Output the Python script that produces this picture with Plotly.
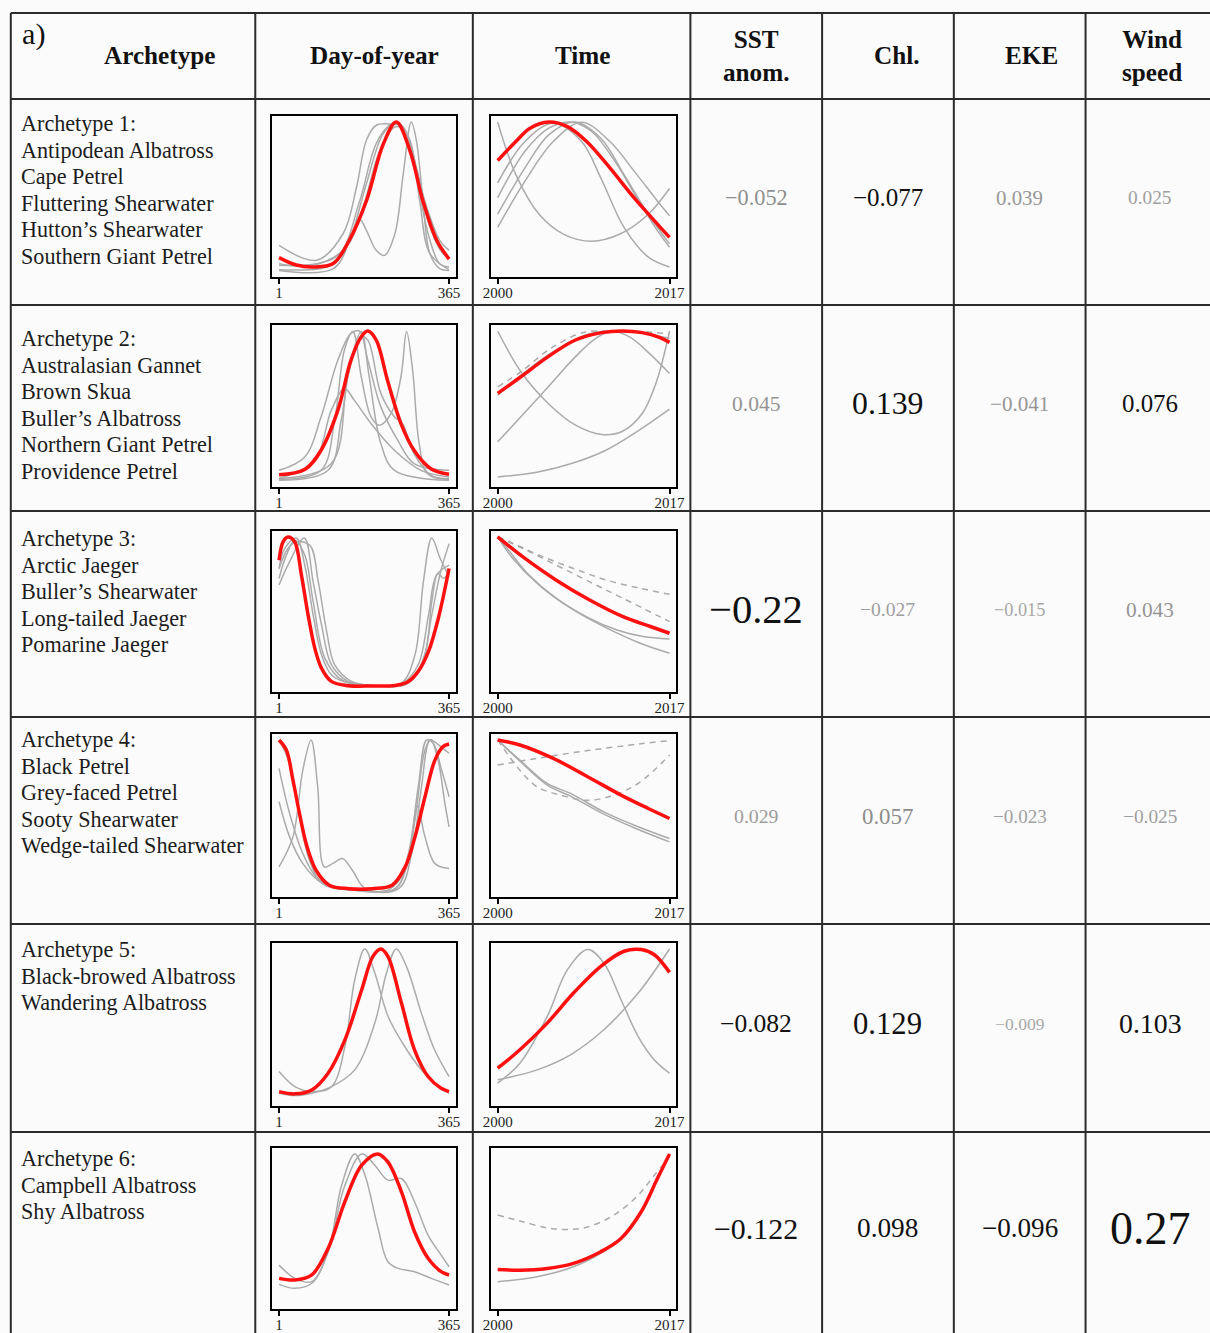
import plotly.graph_objects as go

W, H = 1210, 1333

# ---------------- data ----------------
headers = ["Archetype", "Day-of-year", "Time", "SST<br>anom.", "Chl.", "EKE", "Wind<br>speed"]
archetype_titles = ["Archetype 1:", "Archetype 2:", "Archetype 3:", "Archetype 4:", "Archetype 5:", "Archetype 6:"]
species_names = [
    ["Antipodean Albatross", "Cape Petrel", "Fluttering Shearwater", "Hutton’s Shearwater", "Southern Giant Petrel"],
    ["Australasian Gannet", "Brown Skua", "Buller’s Albatross", "Northern Giant Petrel", "Providence Petrel"],
    ["Arctic Jaeger", "Buller’s Shearwater", "Long-tailed Jaeger", "Pomarine Jaeger"],
    ["Black Petrel", "Grey-faced Petrel", "Sooty Shearwater", "Wedge-tailed Shearwater"],
    ["Black-browed Albatross", "Wandering Albatross"],
    ["Campbell Albatross", "Shy Albatross"],
]
sst_anom = [-0.052, 0.045, -0.22, 0.029, -0.082, -0.122]
chl = [-0.077, 0.139, -0.027, 0.057, 0.129, 0.098]
eke = [0.039, -0.041, -0.015, -0.023, -0.009, -0.096]
wind_speed = [0.025, 0.076, 0.043, -0.025, 0.103, 0.27]

doy_ticks = [1, 365]
doy_ticktext = ["1", "365"]
year_ticks = [2000, 2017]
year_ticktext = ["2000", "2017"]

# Archetype (red) seasonal curves: (day, relative value)
doy_archetype = [
    ([1, 38, 74, 117, 152, 188, 224, 252, 281, 309, 338, 365],
     [0.09, 0.04, 0.027, 0.05, 0.21, 0.47, 0.85, 1.0, 0.81, 0.47, 0.21, 0.08]),
    ([1, 56, 91, 127, 155, 177, 191, 209, 233, 262, 290, 326, 365],
     [0.042, 0.076, 0.205, 0.472, 0.806, 0.962, 1.0, 0.94, 0.673, 0.383, 0.205, 0.082, 0.045]),
    ([1, 9.6, 20.3, 34.6, 48.9, 63.2, 77.5, 91.8, 113, 149, 199, 249, 278, 299, 321, 342, 365],
     [0.844, 0.967, 1.0, 0.967, 0.744, 0.477, 0.254, 0.12, 0.031, 0.002, 0.0, 0.004, 0.031, 0.098, 0.232, 0.454, 0.788]),
    ([1, 16.6, 30.7, 44.8, 59, 80.2, 108.5, 151, 200, 243, 271, 292, 313.5, 334.7, 352, 365],
     [1.0, 0.934, 0.735, 0.513, 0.314, 0.137, 0.038, 0.015, 0.015, 0.038, 0.159, 0.358, 0.624, 0.867, 0.956, 0.973]),
    ([1, 35, 71, 106, 142, 178, 202, 219, 234, 263, 291, 320, 348, 365],
     [0.055, 0.04, 0.066, 0.177, 0.398, 0.73, 0.951, 1.0, 0.951, 0.642, 0.332, 0.155, 0.077, 0.055]),
    ([1, 35, 71, 106, 142, 178, 212, 234, 263, 291, 320, 348, 365],
     [0.165, 0.154, 0.188, 0.366, 0.68, 0.924, 1.0, 0.946, 0.746, 0.478, 0.3, 0.21, 0.188]),
]

# Species (grey) seasonal curves
doy_species = [
    [
        ([1, 81, 138, 167, 188, 209, 245, 267, 288, 317, 345, 365],
         [0.172, 0.072, 0.25, 0.564, 0.877, 0.978, 0.984, 0.966, 0.765, 0.43, 0.206, 0.139]),
        ([1, 102, 138, 160, 174, 188, 209, 227, 249, 267, 284, 295, 309, 324, 345, 365],
         [0.009, 0.027, 0.116, 0.273, 0.345, 0.273, 0.139, 0.105, 0.25, 0.653, 1.0, 0.877, 0.474, 0.116, 0.016, 0.004]),
        ([1, 117, 152, 188, 224, 252, 281, 302, 324, 365],
         [0.004, 0.016, 0.206, 0.586, 0.922, 1.0, 0.877, 0.474, 0.116, 0.009]),
        ([1, 81, 131, 174, 209, 238, 259, 281, 302, 324, 345, 365],
         [0.038, 0.049, 0.116, 0.474, 0.855, 0.978, 0.99, 0.855, 0.52, 0.206, 0.049, 0.027]),
        ([1, 74, 145, 181, 217, 249, 270, 295, 324, 352, 365],
         [0.049, 0.038, 0.161, 0.43, 0.81, 0.966, 0.944, 0.698, 0.295, 0.116, 0.094]),
    ],
    [
        ([1, 91, 120, 141, 159, 177, 198, 216, 241, 262, 274, 287, 301, 319, 365],
         [0.009, 0.071, 0.405, 0.873, 0.996, 0.695, 0.428, 0.372, 0.45, 0.695, 0.996, 0.739, 0.249, 0.049, 0.009]),
        ([1, 56, 91, 127, 155, 173, 191, 219, 255, 290, 365],
         [0.071, 0.16, 0.428, 0.806, 0.984, 1.0, 0.806, 0.494, 0.272, 0.116, 0.071]),
        ([1, 77, 113, 141, 162, 198, 248, 305, 365],
         [0.016, 0.138, 0.472, 0.617, 0.539, 0.383, 0.205, 0.071, 0.027]),
        ([1, 106, 134, 155, 177, 194, 219, 248, 365],
         [0.004, 0.071, 0.405, 0.806, 0.996, 0.695, 0.249, 0.071, 0.004]),
        ([1, 113, 148, 177, 191, 219, 248, 265, 290, 326, 365],
         [0.016, 0.116, 0.695, 0.962, 0.94, 0.584, 0.428, 0.383, 0.183, 0.038, 0.016]),
    ],
    [
        ([1, 13, 38, 56, 74, 92, 113, 149, 199, 263, 292, 310, 328, 346, 365],
         [0.788, 0.922, 0.993, 0.811, 0.477, 0.209, 0.076, 0.02, 0.004, 0.02, 0.209, 0.699, 0.993, 0.855, 0.733]),
        ([1, 20, 55, 74, 92, 113, 149, 199, 271, 306, 328, 346, 365],
         [0.677, 0.811, 0.993, 0.699, 0.41, 0.143, 0.031, 0.004, 0.009, 0.143, 0.477, 0.755, 0.955]),
        ([1, 20, 38, 67, 85, 103, 120, 156, 199, 278, 313, 328, 341, 353, 365],
         [0.788, 0.922, 0.967, 0.944, 0.699, 0.365, 0.143, 0.031, 0.004, 0.02, 0.209, 0.566, 0.755, 0.722, 0.766]),
        ([1, 16.7, 34.6, 56, 74, 99, 135, 199, 263, 299, 321, 338, 365],
         [0.722, 0.878, 0.978, 0.878, 0.566, 0.187, 0.042, 0.004, 0.013, 0.143, 0.477, 0.744, 0.811]),
    ],
    [
        ([1, 30.7, 51.9, 69.6, 83.7, 97.9, 115.5, 136.7, 158, 186, 250, 278, 297, 313.5, 334.7, 365],
         [0.159, 0.358, 0.801, 1.0, 0.69, 0.159, 0.181, 0.215, 0.137, 0.015, 0.015, 0.204, 0.562, 0.358, 0.181, 0.148]),
        ([1, 23.6, 51.9, 80.2, 115.5, 165, 250, 278, 299, 317, 331, 349, 365],
         [0.812, 0.513, 0.248, 0.093, 0.027, 0.004, 0.015, 0.248, 0.69, 1.0, 0.978, 0.801, 0.624]),
        ([1, 23.6, 51.9, 94.3, 151, 236, 271, 292, 313.5, 326, 341.5, 356, 365],
         [0.591, 0.358, 0.181, 0.049, 0.009, 0.009, 0.137, 0.469, 0.934, 1.0, 0.867, 0.58, 0.425]),
        ([1, 23.6, 44.8, 66, 94.3, 165, 257, 285, 306, 324, 338, 356, 365],
         [1.0, 0.845, 0.491, 0.204, 0.049, 0.004, 0.015, 0.248, 0.69, 1.0, 0.978, 0.934, 0.912]),
    ],
    [
        ([1, 35, 71, 113.5, 142, 163, 184.7, 206, 234.5, 270, 305.7, 334, 365],
         [0.188, 0.088, 0.055, 0.088, 0.354, 0.796, 1.0, 0.841, 0.553, 0.354, 0.199, 0.111, 0.044]),
        ([1, 35, 71, 113.5, 163, 206, 231, 252, 273.7, 305.7, 334, 365],
         [0.044, 0.029, 0.044, 0.088, 0.199, 0.509, 0.841, 1.0, 0.885, 0.575, 0.332, 0.155]),
    ],
    [
        ([1, 35, 71, 106, 135, 163, 185, 213, 234, 256, 291, 327, 365],
         [0.254, 0.165, 0.143, 0.344, 0.79, 1.0, 0.857, 0.5, 0.277, 0.232, 0.21, 0.165, 0.121]),
        ([1, 35, 71, 106, 142, 178, 206, 234, 263, 291, 320, 348, 365],
         [0.125, 0.098, 0.132, 0.344, 0.79, 1.0, 0.924, 0.824, 0.835, 0.679, 0.455, 0.321, 0.243]),
    ],
]

# Archetype (red) trend curves: (year, relative value)
time_archetype = [
    ([2000, 2001.8, 2003.2, 2005.05, 2006.9, 2008.8, 2011.1, 2013.5, 2015.8, 2017],
     [0.741, 0.869, 0.958, 1.0, 0.969, 0.869, 0.692, 0.49, 0.315, 0.226]),
    ([2000, 2002.3, 2005, 2007.7, 2010.3, 2012.3, 2014.3, 2016, 2017],
     [0.584, 0.695, 0.829, 0.94, 0.989, 1.0, 0.989, 0.958, 0.924]),
    ([2000, 2002.5, 2005.8, 2009.1, 2012.4, 2015.1, 2017],
     [1.0, 0.866, 0.71, 0.577, 0.465, 0.399, 0.354]),
    ([2000, 2002.2, 2005.5, 2008.9, 2012.2, 2014.9, 2017],
     [1.0, 0.967, 0.878, 0.757, 0.635, 0.546, 0.48]),
    ([2000, 2002.2, 2004.9, 2007.5, 2010.2, 2012.5, 2014.2, 2015.5, 2017],
     [0.21, 0.332, 0.509, 0.708, 0.885, 0.985, 0.996, 0.962, 0.845]),
    ([2000, 2002.2, 2004.9, 2007.5, 2010.2, 2012.2, 2014.2, 2015.8, 2017],
     [0.225, 0.22, 0.232, 0.266, 0.344, 0.433, 0.612, 0.835, 1.0]),
]

# Species (grey, solid) trend curves
time_species = [
    [
        ([2000, 2001.8, 2004.1, 2006.5, 2009.3, 2012.1, 2014.9, 2017],
         [1.0, 0.647, 0.381, 0.248, 0.2, 0.248, 0.381, 0.554]),
        ([2000, 2002.7, 2005.5, 2008.3, 2010.2, 2012.5, 2014.9, 2017],
         [0.592, 0.869, 0.991, 0.869, 0.625, 0.293, 0.093, 0.027]),
        ([2000, 2002.7, 2005.05, 2007.2, 2009.3, 2011.6, 2013.95, 2015.8, 2017],
         [0.492, 0.803, 0.958, 1.0, 0.936, 0.736, 0.47, 0.271, 0.16]),
        ([2000, 2002.7, 2005.05, 2007.6, 2010.2, 2012.5, 2014.9, 2017],
         [0.381, 0.692, 0.913, 1.0, 0.891, 0.647, 0.381, 0.182]),
        ([2000, 2002.7, 2005.5, 2008.3, 2011.1, 2013.5, 2015.8, 2017],
         [0.293, 0.603, 0.869, 0.998, 0.869, 0.67, 0.47, 0.37]),
    ],
    [
        ([2000, 2005, 2009, 2012.3, 2017], [0.572, 0.84, 0.98, 1.0, 0.951]),
        ([2000, 2002.3, 2005, 2007.7, 2010.3, 2012.3, 2014.3, 2015.7, 2017],
         [1.0, 0.728, 0.517, 0.372, 0.31, 0.33, 0.45, 0.66, 1.0]),
        ([2000, 2002.3, 2005, 2007.7, 2009.7, 2011.3, 2013, 2015, 2017],
         [0.261, 0.428, 0.628, 0.829, 0.951, 0.996, 0.962, 0.851, 0.717]),
        ([2000, 2004, 2007.3, 2010.7, 2014, 2017], [0.027, 0.06, 0.116, 0.205, 0.339, 0.479]),
    ],
    [
        ([2000, 2001.2, 2003.1, 2005.8, 2009.1, 2011.8, 2014.4, 2017],
         [1.0, 0.9, 0.744, 0.588, 0.454, 0.376, 0.332, 0.316]),
        ([2000, 2001.5, 2004.1, 2007.5, 2010.8, 2014.1, 2017],
         [1.0, 0.855, 0.677, 0.51, 0.388, 0.287, 0.22]),
    ],
    [
        ([2000, 2002.2, 2004.9, 2007.2, 2010.5, 2013.9, 2017],
         [1.0, 0.867, 0.712, 0.646, 0.524, 0.425, 0.347]),
        ([2000, 2002.2, 2004.9, 2007.2, 2010.5, 2013.9, 2017],
         [1.0, 0.86, 0.701, 0.628, 0.509, 0.407, 0.325]),
    ],
    [
        ([2000, 2002.2, 2004.9, 2006.9, 2008.9, 2010.5, 2012.2, 2013.9, 2015.5, 2017],
         [0.111, 0.243, 0.553, 0.863, 0.996, 0.907, 0.664, 0.42, 0.265, 0.177]),
        ([2000, 2003.9, 2007.2, 2010.5, 2013.9, 2017], [0.133, 0.199, 0.299, 0.465, 0.708, 1.0]),
    ],
    [
        ([2000, 2003.9, 2007.5, 2010.2, 2012.2, 2014.2, 2015.8, 2017],
         [0.143, 0.176, 0.243, 0.333, 0.43, 0.61, 0.83, 1.0]),
    ],
]

# Species (grey, dashed) trend curves
time_species_dashed = [
    [],
    [
        ([2000, 2002.3, 2005, 2007.7, 2009, 2011, 2012.3, 2014.3, 2017],
         [0.628, 0.728, 0.873, 0.973, 0.996, 1.0, 1.0, 0.996, 0.98]),
    ],
    [
        ([2000, 2001.2, 2004.1, 2007.5, 2010.8, 2014.1, 2017],
         [1.0, 0.967, 0.878, 0.788, 0.71, 0.655, 0.615]),
        ([2000, 2002.5, 2005.8, 2009.1, 2012.4, 2017],
         [1.0, 0.922, 0.811, 0.699, 0.588, 0.432]),
    ],
    [
        ([2000, 2003.9, 2008.9, 2013.9, 2017], [0.834, 0.878, 0.93, 0.973, 0.996]),
        ([2000, 2002.2, 2003.9, 2006.2, 2008.9, 2011.5, 2013.9, 2017],
         [1.0, 0.8, 0.69, 0.635, 0.6, 0.635, 0.712, 0.9]),
    ],
    [],
    [
        ([2000, 2002.2, 2004.9, 2006.9, 2008.9, 2011.5, 2013.9, 2015.5, 2017],
         [0.59, 0.55, 0.504, 0.493, 0.51, 0.59, 0.723, 0.857, 0.98]),
    ],
]

# ---------------- layout geometry (target pixels in the final picture) ----------------
GRID_X = [10, 255, 473, 691, 823, 955, 1087]
GRID_Y = [13, 99, 305, 511, 717, 924, 1132]
ROW_BOUNDS = [(99, 305), (305, 511), (511, 717), (717, 924), (924, 1132), (1132, 1333)]
BOX_Y = [(116, 277), (325, 487), (531, 692), (734, 897), (943, 1106), (1148, 1309)]
DOY_BOX_X = (272, 456)
TIME_BOX_X = (491, 677)
FIRST_LINE_Y = [124, 339, 539, 740, 950, 1159]
LINE_GAP = 26.5
VALUE_COL_X = [757, 889, 1021, 1152]
HEADER_X = [159, 374, 583, 757, 898, 1033, 1154]

# the captured picture is slightly shrunk/offset relative to the page; compensate
X_OFF, X_SCALE, Y_SCALE = 7.2, 0.988, 0.9963
FS = 1.0 / 0.992  # font compensation

SERIF = "Liberation Serif, Times New Roman, serif"
RED = "#ff1010"
GREY = "#ababab"


def fx(p):
    return ((p - X_OFF) / X_SCALE) / W


def fy(p):
    return 1 - (p / Y_SCALE) / H


fig = go.Figure()
layout_axes = {}
shapes = []
annotations = []

DOY_RANGE = [1 - 0.04 * 364, 365 + 0.04 * 364]
YEAR_RANGE = [2000 - 0.04 * 17, 2017 + 0.04 * 17]
Y_RANGE = [-0.04, 1.04]


def add_axes(idx, bx, by, xr, tv, tt):
    xa = "xaxis" if idx == 1 else f"xaxis{idx}"
    ya = "yaxis" if idx == 1 else f"yaxis{idx}"
    ref = "" if idx == 1 else str(idx)
    layout_axes[xa] = dict(
        domain=[fx(bx[0]), fx(bx[1])], anchor="y" + ref, range=xr,
        showline=True, mirror=True, linecolor="black", linewidth=2,
        ticks="outside", ticklen=5, tickwidth=1.5, tickcolor="black",
        ticklabelstandoff=-4,
        tickvals=tv, ticktext=tt, showgrid=False, zeroline=False,
        tickfont=dict(family=SERIF, size=15, color="#222"), fixedrange=True,
    )
    layout_axes[ya] = dict(
        domain=[fy(by[1]), fy(by[0])], anchor="x" + ref, range=Y_RANGE,
        showline=True, mirror=True, linecolor="black", linewidth=2,
        ticks="", showticklabels=False, showgrid=False, zeroline=False, fixedrange=True,
    )
    return "x" + ref, "y" + ref


def add_line(xs, ys, xr, yr, color, width, dash="solid"):
    fig.add_trace(go.Scatter(
        x=xs, y=ys, mode="lines", xaxis=xr, yaxis=yr, showlegend=False, hoverinfo="skip",
        line=dict(color=color, width=width, dash=dash, shape="spline", smoothing=1.0),
    ))


for r in range(6):
    # Day-of-year panel
    idx = 2 * r + 1
    xr, yr = add_axes(idx, DOY_BOX_X, BOX_Y[r], DOY_RANGE, doy_ticks, doy_ticktext)
    for xs, ys in doy_species[r]:
        add_line(xs, ys, xr, yr, GREY, 1.5)
    add_line(*doy_archetype[r], xr, yr, RED, 3.5)

    # Time panel
    idx = 2 * r + 2
    xr, yr = add_axes(idx, TIME_BOX_X, BOX_Y[r], YEAR_RANGE, year_ticks, year_ticktext)
    for xs, ys in time_species_dashed[r]:
        add_line(xs, ys, xr, yr, GREY, 1.5, dash="6px,5px")
    for xs, ys in time_species[r]:
        add_line(xs, ys, xr, yr, GREY, 1.5)
    add_line(*time_archetype[r], xr, yr, RED, 3.5)

# ---------------- table grid ----------------
for gx in GRID_X:
    shapes.append(dict(type="line", xref="paper", yref="paper", x0=fx(gx), x1=fx(gx),
                       y0=fy(GRID_Y[0]), y1=fy(H + 10), line=dict(color="#2b2b2b", width=2)))
for gy in GRID_Y:
    shapes.append(dict(type="line", xref="paper", yref="paper", x0=fx(GRID_X[0]), x1=fx(W + 10),
                       y0=fy(gy), y1=fy(gy), line=dict(color="#2b2b2b", width=2)))

# ---------------- header ----------------
annotations.append(dict(text="a)", x=fx(19), y=fy(34), xref="paper", yref="paper",
                        xanchor="left", yanchor="middle", showarrow=False,
                        font=dict(family=SERIF, size=30 * FS, color="#111")))
for hx, htxt in zip(HEADER_X, headers):
    annotations.append(dict(text=f"<b>{htxt}</b>", x=fx(hx), y=fy(56), xref="paper", yref="paper",
                            xanchor="center", yanchor="middle", showarrow=False,
                            font=dict(family=SERIF, size=25 * FS, color="#111")))

# ---------------- archetype name column ----------------
for r in range(6):
    lines = [archetype_titles[r]] + species_names[r]
    for i, t in enumerate(lines):
        annotations.append(dict(text=t, x=fx(18), y=fy(FIRST_LINE_Y[r] + i * LINE_GAP),
                                xref="paper", yref="paper", xanchor="left", yanchor="middle",
                                showarrow=False, font=dict(family=SERIF, size=22 * FS, color="#1c1c1c")))


# ---------------- value columns ----------------
def fmt(v):
    s = f"{abs(v):g}"
    return ("\u2212" + s) if v < 0 else s


def style(v):
    a = abs(v)
    size = (16.5 + 108 * a) * FS
    if a >= 0.07:
        color = "#111111"
    else:
        g = int(175 - 600 * a)
        color = f"rgb({g},{g},{g})"
    return size, color


for ci, col in enumerate([sst_anom, chl, eke, wind_speed]):
    for r, v in enumerate(col):
        size, color = style(v)
        cy = (ROW_BOUNDS[r][0] + ROW_BOUNDS[r][1]) / 2 - 4
        annotations.append(dict(text=fmt(v), x=fx(VALUE_COL_X[ci]), y=fy(cy), xref="paper", yref="paper",
                                xanchor="center", yanchor="middle", showarrow=False,
                                font=dict(family=SERIF, size=size, color=color)))

fig.update_layout(
    width=W, height=H, margin=dict(l=0, r=0, t=0, b=0),
    paper_bgcolor="#fbfbfb", plot_bgcolor="#fbfbfb",
    shapes=shapes, annotations=annotations, showlegend=False,
    **layout_axes,
)

fig.write_html(
    "out.html",
    config={"displayModeBar": False, "responsive": False},
    post_script=(
        "document.documentElement.style.margin='0';"
        "document.documentElement.style.overflow='hidden';"
        "document.body.style.margin='0';document.body.style.padding='0';"
        "document.body.style.overflow='hidden';"
        "var gd=document.getElementById('{plot_id}');"
        "gd.style.position='absolute';gd.style.left='0px';gd.style.top='0px';"
        "gd.style.overflow='hidden';"
    ),
)
